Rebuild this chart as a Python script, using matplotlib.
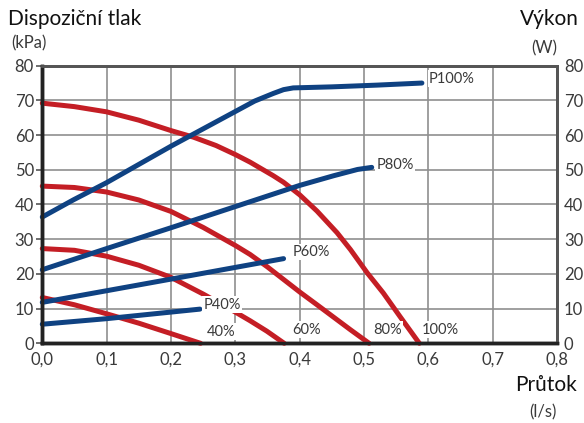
import matplotlib
matplotlib.use("Agg")
import matplotlib.pyplot as plt

plt.rcParams['font.family'] = ['Lato', 'DejaVu Sans']

# Pump pressure curves (kPa, left axis)
p100_x = [0, 0.05, 0.1, 0.15, 0.2, 0.235, 0.27, 0.3, 0.323, 0.359, 0.375, 0.4, 0.427, 0.458, 0.479, 0.505, 0.53, 0.556, 0.586]
p100_y = [69.2, 68.2, 66.7, 64.3, 61.3, 59.4, 57.0, 54.4, 52.2, 48.3, 46.4, 42.8, 38.1, 31.9, 27.0, 20.3, 14.5, 7.7, 0]
p80_x = [0, 0.05, 0.1, 0.15, 0.2, 0.25, 0.3, 0.323, 0.35, 0.375, 0.4, 0.427, 0.453, 0.479, 0.508]
p80_y = [45.3, 44.9, 43.6, 41.3, 38.0, 33.4, 28.2, 25.6, 22.0, 18.4, 14.8, 11.1, 7.5, 3.9, 0]
p60_x = [0, 0.05, 0.1, 0.15, 0.2, 0.25, 0.3, 0.323, 0.349, 0.376]
p60_y = [27.3, 26.8, 25.1, 22.5, 19.0, 14.2, 9.0, 6.5, 3.5, 0]
p40_x = [0, 0.05, 0.1, 0.15, 0.2, 0.246]
p40_y = [13.2, 11.1, 8.5, 5.8, 2.8, 0]

# Power curves (W, right axis)
w100_x = [0, 0.048, 0.1, 0.2, 0.3, 0.33, 0.359, 0.375, 0.39, 0.45, 0.52, 0.59]
w100_y = [36.4, 41.3, 46.3, 56.8, 66.8, 69.8, 72.0, 73.1, 73.6, 73.9, 74.4, 75.0]
w80_x = [0, 0.1, 0.2, 0.3, 0.4, 0.453, 0.49, 0.512]
w80_y = [21.2, 27.3, 33.3, 39.4, 45.5, 48.3, 50.1, 50.7]
w60_x = [0, 0.2, 0.375]
w60_y = [11.8, 18.5, 24.4]
w40_x = [0, 0.1, 0.245]
w40_y = [5.5, 7.1, 9.85]

x_ticks = [0, 0.1, 0.2, 0.3, 0.4, 0.5, 0.6, 0.7, 0.8]
x_ticklabels = ['0,0', '0,1', '0,2', '0,3', '0,4', '0,5', '0,6', '0,7', '0,8']
y_ticks = [0, 10, 20, 30, 40, 50, 60, 70, 80]

curve_labels = ['40%', '60%', '80%', '100%']
curve_label_x = [0.255, 0.389, 0.514, 0.59]
curve_label_y = [3.3, 3.9, 3.9, 3.9]
power_labels = ['P40%', 'P60%', 'P80%', 'P100%']
power_label_x = [0.25, 0.389, 0.519, 0.601]
power_label_y = [11.1, 26.3, 51.4, 76.3]

RED = '#c41e25'
BLUE = '#0f4282'
TXT = '#3a3a3a'

fig = plt.figure(figsize=(5.84, 4.23), dpi=100)
ax = fig.add_axes([0.0724, 0.1884, 0.8814, 0.6563])
ax2 = ax.twinx()

lw = 3.6
for xs, ys in [(p100_x, p100_y), (p80_x, p80_y), (p60_x, p60_y), (p40_x, p40_y)]:
    ax.plot(xs, ys, color=RED, lw=lw, solid_capstyle='round', solid_joinstyle='round', zorder=3, clip_on=False)
for xs, ys in [(w100_x, w100_y), (w80_x, w80_y), (w60_x, w60_y), (w40_x, w40_y)]:
    ax.plot(xs, ys, color=BLUE, lw=lw, solid_capstyle='round', solid_joinstyle='round', zorder=4, clip_on=False)

for t, x, y in zip(curve_labels, curve_label_x, curve_label_y):
    ax.text(x, y, t, ha='left', va='center', fontsize=10.5, color=TXT, zorder=5,
            bbox=dict(facecolor='white', edgecolor='none', pad=1.0))
for t, x, y in zip(power_labels, power_label_x, power_label_y):
    ax.text(x, y, t, ha='left', va='center', fontsize=10.5, color=TXT, zorder=5,
            bbox=dict(facecolor='white', edgecolor='none', pad=1.0))

ax.set_xlim(0, 0.8)
ax.set_ylim(0, 80)
ax2.set_ylim(0, 80)
ax.set_xticks(x_ticks)
ax.set_xticklabels(x_ticklabels)
ax.set_yticks(y_ticks)
ax2.set_yticks(y_ticks)
ax.grid(True, color='#8f8f8f', lw=1.2, zorder=0)
ax.set_axisbelow(True)

ax.tick_params(axis='x', length=0, pad=6, labelsize=12, labelcolor=TXT)
ax.tick_params(axis='y', length=4, width=1.2, color='#555555', pad=2, labelsize=12, labelcolor=TXT)
ax2.tick_params(axis='y', length=0, pad=5, labelsize=12, labelcolor=TXT)

for a in (ax, ax2):
    a.spines['left'].set_color('#222222')
    a.spines['left'].set_linewidth(2.5)
    a.spines['bottom'].set_color('#222222')
    a.spines['bottom'].set_linewidth(2.5)
    a.spines['top'].set_color('#555555')
    a.spines['top'].set_linewidth(2)
    a.spines['right'].set_color('#555555')
    a.spines['right'].set_linewidth(2)

fig.text(8 / 584, 1 - 25 / 423, 'Dispoziční tlak', ha='left', va='baseline', fontsize=15, color='#111111')
fig.text(11 / 584, 1 - 48 / 423, '(kPa)', ha='left', va='baseline', fontsize=12, color=TXT)
fig.text(579 / 584, 1 - 25 / 423, 'Výkon', ha='right', va='baseline', fontsize=15, color='#111111')
fig.text(557 / 584, 1 - 53 / 423, '(W)', ha='right', va='baseline', fontsize=12, color=TXT)
fig.text(577 / 584, 1 - 391 / 423, 'Průtok', ha='right', va='baseline', fontsize=15, color='#111111')
fig.text(557 / 584, 1 - 417 / 423, '(l/s)', ha='right', va='baseline', fontsize=12, color=TXT)

fig.savefig('out.png', dpi=100)
